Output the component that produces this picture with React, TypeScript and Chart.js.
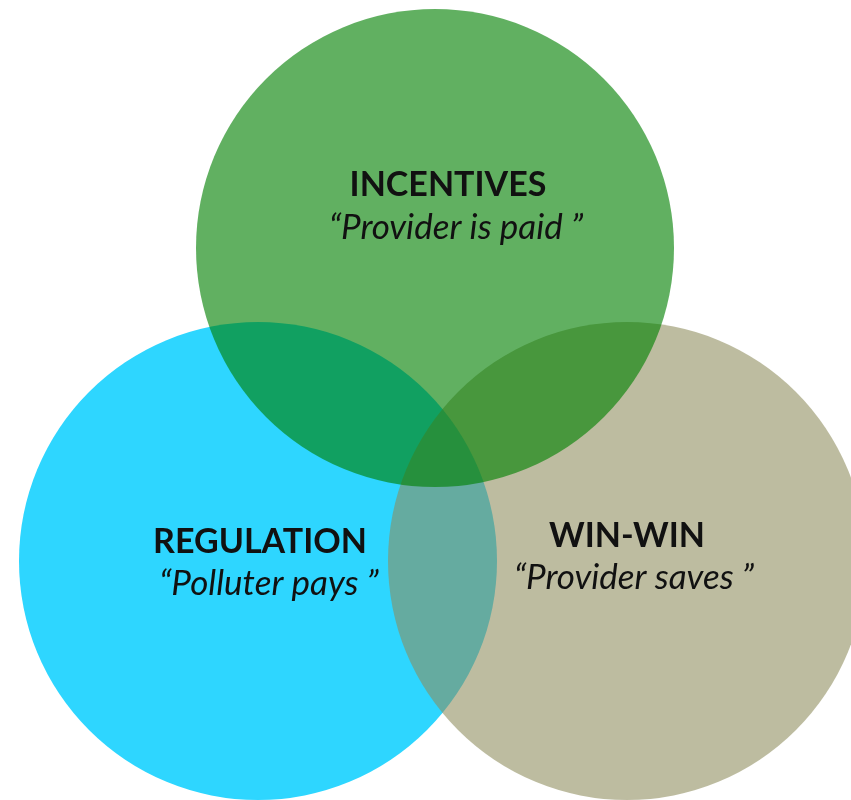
import React, { useEffect, useRef } from "react";
import { Chart, registerables } from "chart.js";

Chart.register(...registerables);

// Venn sets
const setNames = ["INCENTIVES", "WIN-WIN", "REGULATION"];
const setQuotes = ["\u201CProvider is paid \u201D", "\u201CProvider saves \u201D", "\u201CPolluter pays \u201D"];
const setX = [435, 627, 258];
const setY = [552, 239, 239];
const setR = [239, 239, 239];
const setColors = ["rgba(0,127,0,0.62)", "rgba(142,140,92,0.58)", "rgba(46,214,255,1)"];

// label anchors (data coordinates)
const titleX = [448, 627, 260];
const titleY = [604, 253, 247];
const quoteX = [456, 634, 269];
const quoteY = [561, 211, 205];

const labelPlugin = {
  id: "vennLabels",
  afterDatasetsDraw(chart: any) {
    const { ctx, scales } = chart;
    ctx.save();
    ctx.fillStyle = "#111";
    ctx.textAlign = "center";
    ctx.textBaseline = "alphabetic";
    for (let i = 0; i < setNames.length; i++) {
      ctx.font = "bold 34px Lato";
      ctx.fillText(setNames[i], scales.x.getPixelForValue(titleX[i]), scales.y.getPixelForValue(titleY[i]));
      ctx.font = "italic 35px Lato";
      ctx.fillText(setQuotes[i], scales.x.getPixelForValue(quoteX[i]), scales.y.getPixelForValue(quoteY[i]));
    }
    ctx.restore();
  },
};

export default function App() {
  const ref = useRef<HTMLCanvasElement>(null);
  useEffect(() => {
    document.body.style.margin = "0";
    const chart = new Chart(ref.current!, {
      type: "bubble",
      data: {
        datasets: setNames.map((name, i) => ({
          label: name,
          data: [{ x: setX[i], y: setY[i], r: setR[i] }],
          backgroundColor: setColors[i],
          borderWidth: 0,
          hoverBorderWidth: 0,
          order: i,
          clip: false as any,
        })),
      },
      options: {
        responsive: false,
        animation: false,
        layout: { padding: 0, autoPadding: false },
        plugins: { legend: { display: false }, tooltip: { enabled: false } },
        events: [],
        scales: {
          x: { type: "linear", min: 0, max: 851, display: false },
          y: { type: "linear", min: 0, max: 800, display: false },
        },
      },
      plugins: [labelPlugin],
    });
    return () => chart.destroy();
  }, []);
  return (
    <div style={{ width: 851, height: 800 }}>
      <canvas ref={ref} width={851} height={800} />
    </div>
  );
}
